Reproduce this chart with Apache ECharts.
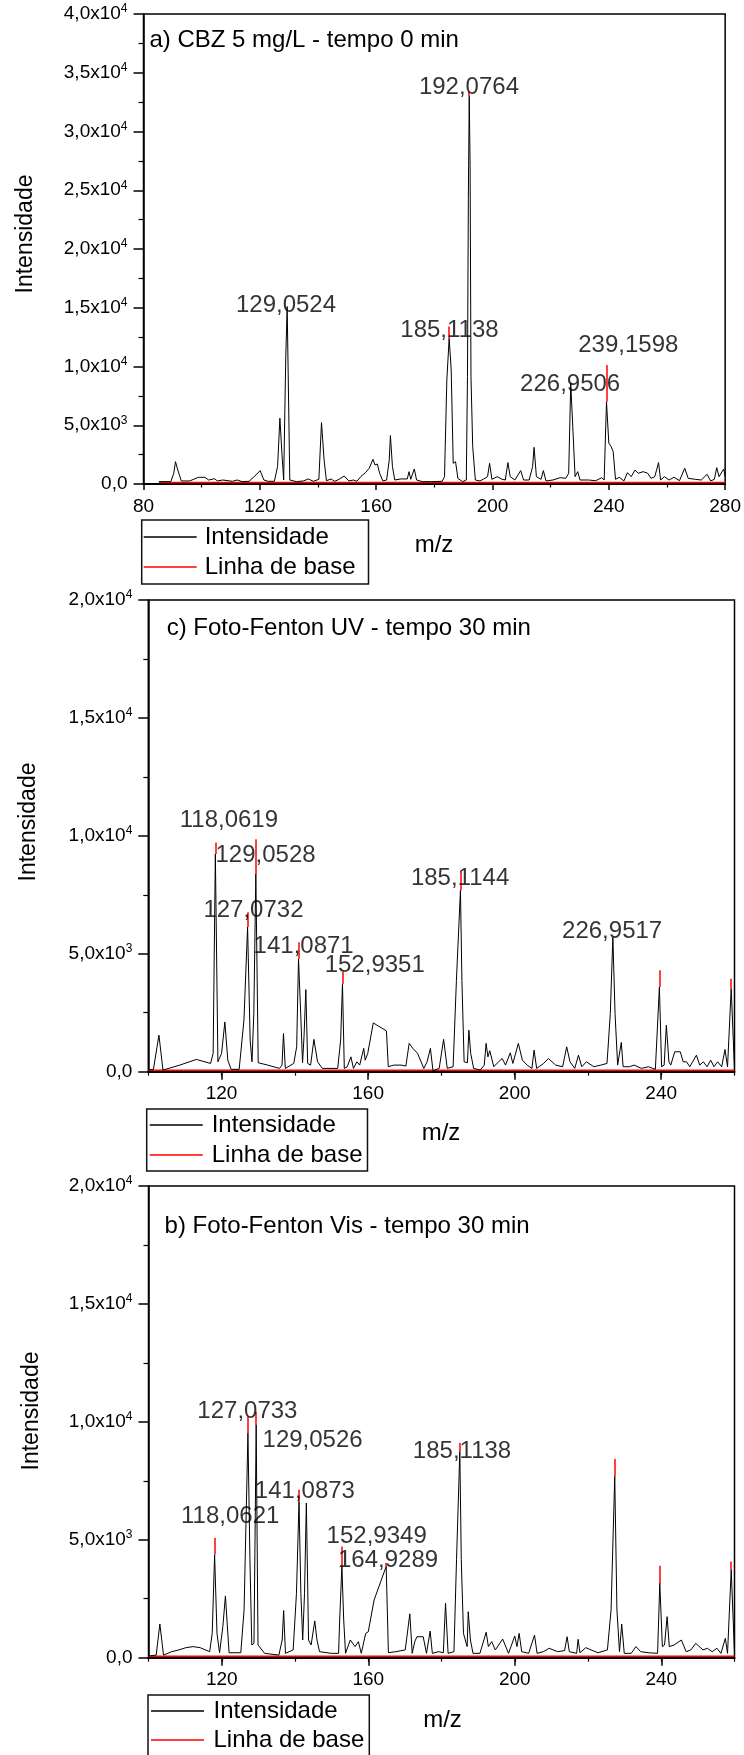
<!DOCTYPE html>
<html><head><meta charset="utf-8">
<script src="https://cdn.jsdelivr.net/npm/echarts@6/dist/echarts.min.js"></script>
<style>html,body{margin:0;padding:0;background:#fff}#c{width:744px;height:1755px}</style>
</head><body><div id="c"></div>
<script>
// ---------------- DATA ----------------
// a) CBZ 5 mg/L - tempo 0 min : [m/z, intensidade]
const spectrumA = [[85.3,200],[89.4,200],[90.4,910],[91.0,1900],[91.8,1190],[93.0,260],[95.9,260],[98.9,570],[101.1,570],[102.4,340],[104.4,450],[105.4,260],[107.3,340],[110.6,230],[112.2,340],[113.9,200],[116.3,230],[118.3,680],[120.1,1140],[121.4,340],[122.8,230],[125.0,230],[126.1,1480],[126.9,5600],[127.6,2610],[128.2,340],[128.9,10570],[129.4,15100],[130.3,340],[132.6,200],[135.0,260],[136.7,430],[138.4,230],[140.3,400],[141.2,5230],[142.1,2050],[142.9,280],[144.5,430],[145.7,230],[146.8,340],[149.0,680],[150.6,260],[152.2,340],[153.4,230],[154.7,625],[156.3,965],[157.6,1335],[158.9,2100],[159.6,1620],[160.4,1700],[161.2,910],[162.3,260],[163.6,340],[164.5,2050],[164.9,4120],[165.6,1480],[166.4,340],[168.5,430],[170.7,430],[171.3,1050],[171.9,400],[173.1,1280],[173.9,340],[175.9,200],[179.1,200],[182.7,230],[183.5,625],[184.3,8860],[185.1,12400],[185.8,9720],[186.5,1760],[187.3,1900],[188.1,480],[189.7,200],[191.0,340],[191.4,9150],[191.7,24300],[192.0,33000],[192.3,27100],[192.6,9150],[193.2,3180],[194.1,340],[195.7,260],[197.0,430],[198.3,625],[199.0,1760],[199.8,400],[201.6,625],[203.3,400],[204.4,340],[205.3,1820],[206.1,625],[207.7,340],[209.7,1140],[210.7,340],[212.6,340],[213.8,1480],[214.3,3125],[215.1,625],[216.7,400],[217.5,1140],[218.4,260],[220.8,340],[223.3,540],[225.2,480],[226.2,910],[226.9,8570],[227.6,4890],[228.4,625],[229.3,1050],[230.1,340],[233.0,340],[235.5,280],[237.6,540],[238.4,340],[239.2,7000],[240.0,3470],[240.8,3180],[241.5,2760],[242.3,400],[243.6,570],[245.2,260],[246.4,965],[247.7,625],[249.0,1190],[250.1,910],[251.8,1050],[253.4,910],[254.5,480],[255.8,625],[257.1,1820],[257.8,340],[259.1,625],[260.7,340],[262.4,570],[264.3,280],[266.1,1340],[267.3,480],[269.7,400],[271.8,340],[273.8,825],[275.0,260],[276.3,400],[277.1,1390],[277.9,625],[279.5,1280],[280.0,625]];
const spikesA = [[185.1,13400],[192.0,33400],[239.2,10130]];          // baseline tips [m/z, top]
const peakLabelsA = [['192,0764',191.9,33760],['129,0524',129.0,15230],['185,1138',185.2,13110],['239,1598',246.7,11830],['226,9506',226.7,8510]];

// c) Foto-Fenton UV - tempo 30 min
const spectrumC = [[100.0,70],[101.4,100],[102.9,1550],[104.0,70],[108.6,280],[113.1,520],[117.0,350],[117.7,775],[118.3,9230],[119.0,420],[120.0,775],[120.9,2110],[121.7,490],[122.6,100],[124.8,100],[126.1,2180],[127.1,6130],[127.8,1340],[128.3,420],[128.8,2460],[129.35,8380],[130.0,380],[132.6,280],[135.8,140],[136.5,280],[136.9,1620],[137.4,140],[139.7,350],[140.5,1060],[141.0,4790],[141.6,2460],[142.1,380],[142.5,1480],[143.0,3480],[143.5,350],[144.3,280],[145.2,1370],[146.2,420],[147.5,140],[151.7,140],[152.5,1340],[153.0,3730],[153.5,140],[154.3,210],[155.3,630],[156.0,140],[156.9,420],[157.7,280],[158.8,990],[159.2,490],[159.9,775],[161.4,2070],[165.0,1730],[165.5,210],[167.0,280],[169.0,280],[170.3,240],[171.2,1200],[172.2,990],[173.5,775],[175.2,140],[176.1,420],[177.0,990],[177.7,40],[179.4,140],[180.6,1370],[181.6,140],[183.2,210],[184.1,3870],[185.2,7690],[185.6,3870],[186.2,420],[187.1,380],[187.5,1760],[188.0,775],[188.8,140],[190.6,70],[191.7,280],[192.2,1200],[192.7,630],[193.2,890],[194.3,210],[195.6,420],[196.6,560],[197.5,280],[198.8,800],[199.5,350],[201.0,1200],[202.1,490],[203.4,280],[204.7,140],[205.3,915],[206.0,140],[207.9,350],[209.2,560],[211.2,280],[213.1,210],[214.2,1055],[215.1,420],[216.4,140],[217.4,700],[218.3,210],[219.6,420],[221.6,210],[223.5,280],[225.2,350],[226.1,2460],[226.8,5700],[227.4,2460],[228.1,280],[229.1,1240],[229.6,210],[231.3,210],[232.6,280],[234.6,140],[236.5,210],[238.4,100],[239.5,3590],[240.1,210],[240.8,280],[241.4,1970],[242.1,420],[242.6,280],[243.7,845],[245.2,845],[246.0,420],[246.9,420],[247.8,210],[249.6,700],[250.5,280],[251.5,420],[252.5,210],[253.5,490],[254.4,210],[255.4,420],[256.5,210],[257.4,940],[258.1,210],[259.1,3520],[260.0,100]];
const spikesC = [[118.3,9720],[127.1,6760],[129.35,9860],[141.0,5490],[153.0,4230],[185.2,8470],[239.5,4300],[259.1,3940]];
const peakLabelsC = [['118,0619',122.0,10670],['129,0528',132.0,9190],['185,1144',185.1,8200],['127,0732',128.7,6830],['141,0871',142.4,5330],['152,9351',161.8,4520],['226,9517',226.6,5940]];

// b) Foto-Fenton Vis - tempo 30 min
const spectrumB = [[100.0,70],[102.1,110],[103.1,1430],[104.1,110],[106.3,255],[108.3,330],[110.2,425],[112.2,470],[114.1,425],[116.7,255],[117.4,1030],[118.05,4360],[118.7,1030],[119.4,210],[120.3,1320],[121.0,2620],[122.0,210],[125.2,210],[126.1,2025],[127.15,9520],[127.7,4150],[128.2,540],[128.8,610],[129.4,9870],[129.9,540],[131.7,185],[135.6,110],[136.5,750],[136.9,2000],[137.4,185],[139.5,330],[140.4,2730],[141.1,6630],[141.6,2730],[142.1,750],[142.6,2730],[143.1,6560],[143.7,750],[144.4,540],[145.4,1560],[146.0,750],[146.7,255],[149.9,185],[151.9,185],[152.2,1600],[152.8,3870],[153.3,1600],[153.8,185],[155.1,750],[156.4,470],[157.3,680],[158.1,185],[159.3,1030],[160.0,1100],[161.6,2450],[164.9,3870],[165.5,210],[167.5,255],[170.1,330],[171.35,1860],[172.0,185],[172.7,680],[173.3,890],[175.0,890],[175.9,185],[176.9,1130],[177.5,185],[179.2,255],[180.5,210],[181.1,2310],[181.8,185],[183.4,255],[184.1,4150],[185.0,8750],[185.4,4150],[186.0,1030],[187.0,470],[187.3,1950],[187.9,750],[188.6,185],[190.5,185],[192.2,1080],[192.8,470],[193.7,680],[194.7,330],[196.7,790],[198.3,185],[200.0,920],[200.6,470],[201.2,1030],[201.9,255],[203.8,185],[205.4,960],[206.1,185],[207.8,255],[209.4,400],[211.7,255],[213.6,300],[214.3,890],[214.9,255],[216.9,185],[217.3,780],[217.8,210],[219.4,425],[222.7,210],[225.3,330],[226.3,2025],[227.3,7690],[227.9,2025],[228.6,255],[229.2,1430],[229.9,185],[231.8,185],[233.1,470],[234.4,255],[236.4,210],[239.0,185],[239.6,3160],[240.3,470],[240.9,540],[241.6,1740],[242.2,470],[243.5,540],[245.5,750],[246.8,255],[248.1,330],[249.4,610],[251.4,330],[252.6,400],[253.9,255],[255.2,400],[256.3,185],[257.5,820],[258.1,185],[259.1,3720],[260.0,185]];
const spikesB = [[118.05,5070],[127.15,10240],[129.4,10430],[141.1,7120],[152.8,4720],[164.9,4010],[185.0,9100],[227.3,8430],[239.6,3900],[259.1,4080]];
const peakLabelsB = [['127,0733',127.0,10430],['129,0526',144.8,9230],['185,1138',185.6,8730],['141,0873',142.7,7040],['118,0621',122.3,6010],['152,9349',162.3,5160],['164,9289',165.4,4140]];

const panelTitles = ['a) CBZ 5 mg/L - tempo 0 min', 'c) Foto-Fenton UV - tempo 30 min', 'b) Foto-Fenton Vis - tempo 30 min'];
const seriesNames = ['Intensidade', 'Linha de base'];
const yTitle = 'Intensidade';
const xTitle = 'm/z';
const labelledTicksCB = [120, 160, 200, 240];

// ---------------- LAYOUT ----------------
const FONT = '"Liberation Sans", Arial, sans-serif';
const BLACK = '#000', RED = '#ff0000';
const panels = [
  { grid:{left:143.5, top:14, width:582, height:470}, xmin:80, xmax:280, ymax:40000, base:120,
    spectrum:spectrumA, spikes:spikesA, labels:peakLabelsA, title:[149.4,40.7], ytitle:[26,234], xtitle:[434,545],
    legend:{left:141.7, top:520, padding:[4,13,4,2], itemGap:4, textPad:3}, major:'a' },
  { grid:{left:148.3, top:600, width:586.2, height:471.7}, xmin:100, xmax:260, ymax:20000, base:60,
    spectrum:spectrumC, spikes:spikesC, labels:peakLabelsC, title:[166.7,628.3], ytitle:[28.5,822], xtitle:[441,1133],
    legend:{left:146.7, top:1109, padding:[3,5,3,3], itemGap:4, textPad:4}, major:'cb' },
  { grid:{left:148.5, top:1186, width:586, height:471.7}, xmin:100, xmax:260, ymax:20000, base:60,
    spectrum:spectrumB, spikes:spikesB, labels:peakLabelsB, title:[164.6,1226.7], ytitle:[31.5,1411], xtitle:[442.5,1720],
    legend:{left:148, top:1695, padding:[3,5,3,3], itemGap:3, textPad:4.5, height:120}, major:'cb' }
];

function yFmt(v){
  if (v === 0) return '{b|0,0}';
  const e = Math.floor(Math.log10(v) + 1e-9);
  const m = (v / Math.pow(10, e)).toFixed(1).replace('.', ',');
  return '{b|' + m + 'x10}{s|' + e + '}';
}
function topAt(spec, mz){
  let best = spec[0];
  spec.forEach(p => { if (Math.abs(p[0]-mz) < Math.abs(best[0]-mz)) best = p; });
  return best[1];
}

const grids = [], xAxes = [], yAxes = [], series = [], legends = [], graphics = [];
panels.forEach((p, i) => {
  grids.push(Object.assign({show:true, borderColor:BLACK, borderWidth:1.5, backgroundColor:'transparent'}, p.grid));
  const xi = xAxes.length;
  const baseX = {gridIndex:i, type:'value', min:p.xmin, max:p.xmax, position:'bottom',
    splitLine:{show:false}, minorSplitLine:{show:false},
    axisLine:{show:true, onZero:false, lineStyle:{color:BLACK, width:2}},
    axisLabel:{fontSize:19, color:BLACK, fontFamily:FONT, margin:13}};
  if (p.major === 'a') {
    xAxes.push(Object.assign({}, baseX, {interval:40,
      axisTick:{show:true, length:6, lineStyle:{color:BLACK, width:1.5}},
      minorTick:{show:true, splitNumber:2, length:3.5, lineStyle:{color:BLACK, width:1.2}}}));
  } else {
    xAxes.push(Object.assign({}, baseX, {interval:20,
      axisTick:{show:true, length:4, lineStyle:{color:BLACK, width:1.2}},
      axisLabel:Object.assign({}, baseX.axisLabel, {formatter: v => labelledTicksCB.indexOf(v) >= 0 ? String(v) : ''})}));
    xAxes.push({gridIndex:i, type:'value', min:p.xmin, max:p.xmax, position:'bottom', interval:20,
      splitLine:{show:false}, axisLine:{show:false}, axisLabel:{show:false},
      axisTick:{show:true, customValues:labelledTicksCB, length:8, lineStyle:{color:BLACK, width:1.5}}});
  }
  yAxes.push({gridIndex:i, type:'value', min:0, max:p.ymax, interval:5000,
    splitLine:{show:false}, minorSplitLine:{show:false},
    axisLine:{show:true, onZero:false, lineStyle:{color:BLACK, width:1.5}},
    axisTick:{show:true, length:10, lineStyle:{color:BLACK, width:1.5}},
    minorTick:{show:true, splitNumber:2, length:5, lineStyle:{color:BLACK, width:1.2}},
    axisLabel:{formatter:yFmt, margin:16, rich:{
      b:{fontSize:19, fontFamily:FONT, color:BLACK, lineHeight:22},
      s:{fontSize:12, fontFamily:FONT, color:BLACK, verticalAlign:'top', lineHeight:12}}}});

  series.push({type:'line', name:seriesNames[1], color:RED, xAxisIndex:xi, yAxisIndex:i, z:2, silent:true,
    symbol:'none', itemStyle:{color:RED}, lineStyle:{color:RED, width:1.5},
    data:[[p.spectrum[0][0], p.base], [p.spectrum[p.spectrum.length-1][0], p.base]],
    markLine:{silent:true, symbol:['none','none'], label:{show:false}, animation:false,
      lineStyle:{color:RED, width:1.5, type:'solid'},
      data:p.spikes.map(s => [{coord:[s[0], topAt(p.spectrum, s[0])]}, {coord:[s[0], s[1]]}])}});
  series.push({type:'line', name:seriesNames[0], color:BLACK, xAxisIndex:xi, yAxisIndex:i, z:3, silent:true,
    symbol:'none', itemStyle:{color:BLACK}, lineStyle:{color:BLACK, width:1}, data:p.spectrum});
  series.push({type:'scatter', xAxisIndex:xi, yAxisIndex:i, z:5, silent:true, symbolSize:1,
    itemStyle:{color:'rgba(0,0,0,0)'},
    label:{show:true, position:'inside', formatter: q => q.value[2], fontSize:24, color:BLACK, fontFamily:FONT},
    data:p.labels.map(l => [l[1], l[2], l[0]])});

  const lg = {left:p.legend.left, top:p.legend.top, orient:'vertical', selectedMode:false,
    data:[{name:seriesNames[0], icon:'rect', itemStyle:{color:BLACK}}, {name:seriesNames[1], icon:'rect', itemStyle:{color:RED}}],
    itemWidth:53, itemHeight:1.5, itemGap:p.legend.itemGap, padding:p.legend.padding,
    borderColor:'#111', borderWidth:1.5, backgroundColor:'#fff',
    textStyle:{fontSize:24, color:BLACK, fontFamily:FONT, lineHeight:26, padding:[0,0,0,p.legend.textPad]}};
  if (p.legend.height) lg.height = p.legend.height;
  legends.push(lg);

  graphics.push({type:'text', x:p.title[0], y:p.title[1], silent:true,
    style:{text:panelTitles[i], fontSize:24, fontFamily:FONT, fill:BLACK, textAlign:'left', textVerticalAlign:'middle', align:'left', verticalAlign:'middle'}});
  graphics.push({type:'text', x:p.ytitle[0], y:p.ytitle[1], rotation:Math.PI/2, silent:true,
    style:{text:yTitle, fontSize:23, fontFamily:FONT, fill:BLACK, textAlign:'center', textVerticalAlign:'middle', align:'center', verticalAlign:'middle'}});
  graphics.push({type:'text', x:p.xtitle[0], y:p.xtitle[1], silent:true,
    style:{text:xTitle, fontSize:24, fontFamily:FONT, fill:BLACK, textAlign:'center', textVerticalAlign:'middle', align:'center', verticalAlign:'middle'}});
});

const chart = echarts.init(document.getElementById('c'), null, {renderer:'canvas', width:744, height:1755});
chart.setOption({
  animation:false, backgroundColor:'#fff',
  grid:grids, xAxis:xAxes, yAxis:yAxes, series:series, legend:legends, graphic:graphics
});
</script></body></html>
